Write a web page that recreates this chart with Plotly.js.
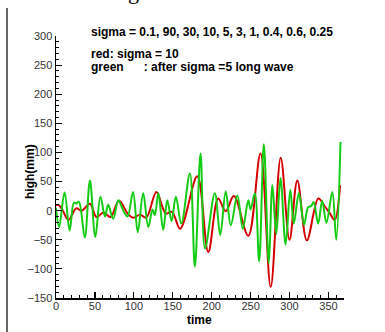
<!DOCTYPE html>
<html>
<head>
<meta charset="utf-8">
<script src="https://cdn.plot.ly/plotly-3.0.1.min.js"></script>
<style>html,body{margin:0;padding:0;background:#fff;}#chart{width:385px;height:332px;}</style>
</head>
<body>
<div id="chart"></div>
<script>
// red: sigma = 10
const redTime = [0, 3, 8, 16, 26, 33, 43.6, 52, 61, 70, 81, 92, 99, 108, 116, 129, 141, 149, 159.5, 181.5, 195.6, 208.4, 218, 228.5, 247, 262.7, 275.8, 288.7, 300, 310, 322.3, 337, 345, 352, 358, 365];
const redHigh = [9, 10, 2, -16, 4, 0, 12, -11, -3, -11, 17, -5, -12, -7, -12, 32, -5, -2, -31, 59, -71, 21, -1, 25, -43, 98, -131, 91, -50, 52, -51, 21, 8, -5, -16, 44];

// green: after sigma = 5 long wave
const greenTime = [0, 4, 11, 17.5, 23, 26, 28, 30, 37, 43.6, 50.5, 57, 63, 67, 73.5, 80, 84, 88, 92, 99, 105, 112, 118.5, 124, 127, 131.5, 137.7, 143, 148.5, 154, 161, 172, 178.4, 185.7, 191.5, 204, 211, 218, 224.6, 233, 240, 247, 250, 255.5, 261, 267, 273.4, 278, 283, 288.4, 295, 301, 305.5, 312, 318.7, 324, 328, 331, 336.8, 342, 347.4, 355, 360, 365.5];
const greenHigh = [5, -28, 31, -34, 14, 12, 15, 14, -46, 52, -45, 24, -10, 10, -14, 18, 8, -4, -10, 32, -37, 30, -28, 2, -8, 30, -33, 18, -18, 24, -22, 64, -96, 98, -65, 30, -42, 33, -25, 26, -31, 18, 2, 30, -87, 114, -90, 44, -40, 56, -58, 36, -22, 30, -24, 6, 8, 15, -22, 17, -21, 32, -50, 118];

const W = 385, H = 332;
const M = {l: 56, r: 41, t: 36, b: 34};
const pw = W - M.l - M.r, ph = H - M.t - M.b;
const px = x => (x - M.l) / pw;
const py = y => (H - M.b - y) / ph;

const font = "Liberation Sans, Arial, Helvetica, sans-serif";

const traces = [
  {x: redTime, y: redHigh, mode: 'lines', line: {color: '#d40000', width: 2, shape: 'spline', smoothing: 1}, showlegend: false, cliponaxis: false},
  {x: greenTime, y: greenHigh, mode: 'lines', line: {color: '#14cc14', width: 2, shape: 'spline', smoothing: 1}, showlegend: false, cliponaxis: false}
];

const layout = {
  width: W, height: H,
  margin: M,
  paper_bgcolor: '#fff', plot_bgcolor: '#fff',
  showlegend: false,
  font: {family: font, color: '#222', size: 11},
  xaxis: {
    range: [0, 370], showgrid: false, zeroline: false,
    showline: true, linecolor: '#000', linewidth: 1.5,
    ticks: 'inside', ticklen: 6, tickwidth: 1.2, tickcolor: '#000',
    tick0: 0, dtick: 50, tickfont: {size: 11, color: '#333'}, ticklabelstandoff: -3,
    minor: {dtick: 10, ticks: 'inside', ticklen: 3, tickwidth: 1, tickcolor: '#000', showgrid: false},
    fixedrange: true
  },
  yaxis: {
    range: [-150, 300], showgrid: false, zeroline: false,
    showline: true, linecolor: '#000', linewidth: 1.5,
    ticks: 'inside', ticklen: 6, tickwidth: 1.2, tickcolor: '#000',
    tick0: 0, dtick: 50, tickfont: {size: 11, color: '#333'},
    minor: {dtick: 10, ticks: 'inside', ticklen: 3, tickwidth: 1, tickcolor: '#000', showgrid: false},
    fixedrange: true
  },
  shapes: [
    {type: 'line', xref: 'paper', yref: 'paper', x0: px(7), x1: px(7), y0: py(8), y1: py(334), line: {color: '#000', width: 1.2}}
  ],
  annotations: [
    {xref: 'paper', yref: 'paper', x: px(89), y: py(32), xanchor: 'left', yanchor: 'middle', showarrow: false,
     text: '<b>sigma = 0.1, 90, 30, 10, 5, 3, 1, 0.4, 0.6, 0.25</b>', font: {size: 12, color: '#000'}},
    {xref: 'paper', yref: 'paper', x: px(89), y: py(54), xanchor: 'left', yanchor: 'middle', showarrow: false,
     text: '<b>red: sigma = 10</b>', font: {size: 12, color: '#000'}},
    {xref: 'paper', yref: 'paper', x: px(89), y: py(67), xanchor: 'left', yanchor: 'middle', showarrow: false,
     text: '<b>green      : after sigma =5 long wave</b>', font: {size: 12, color: '#000'}},
    {xref: 'paper', yref: 'paper', x: px(199), y: py(311), xanchor: 'center', yanchor: 'top', showarrow: false,
     text: '<b>time</b>', font: {size: 12, color: '#000'}},
    {xref: 'paper', yref: 'paper', x: px(30), y: py(172), xanchor: 'center', yanchor: 'middle', showarrow: false, textangle: -90,
     text: '<b>high(mm)</b>', font: {size: 12, color: '#000'}},
    {xref: 'paper', yref: 'paper', x: px(133), y: py(-8), xanchor: 'center', yanchor: 'middle', showarrow: false,
     text: 'g', font: {family: 'Liberation Serif, Times New Roman, serif', size: 22, color: '#000'}}
  ]
};

Plotly.newPlot('chart', traces, layout, {staticPlot: true, displayModeBar: false});
</script>
</body>
</html>
